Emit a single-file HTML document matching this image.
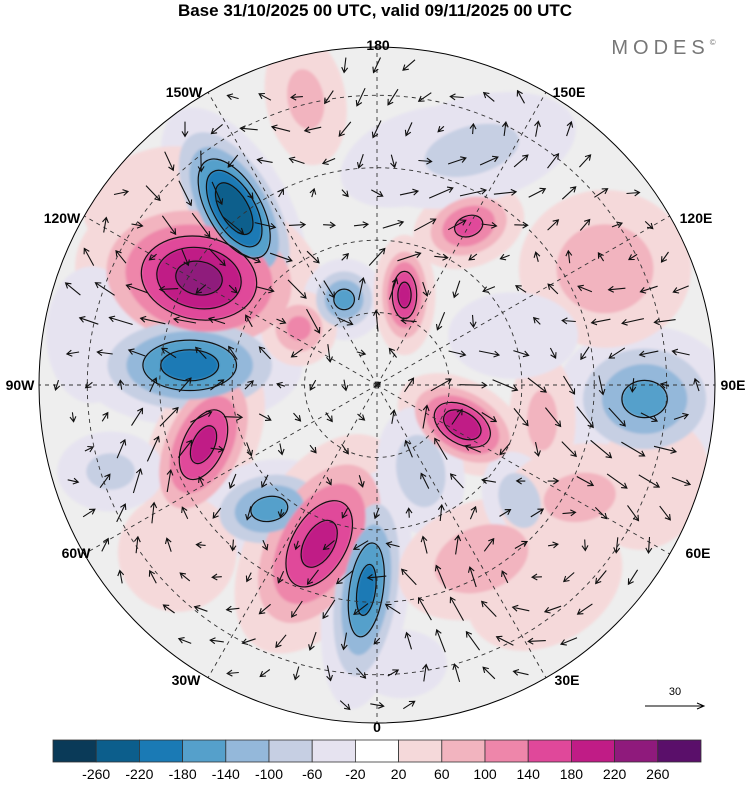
<!DOCTYPE html>
<html><head><meta charset="utf-8"><style>
body{margin:0;background:#fff;width:750px;height:783px;overflow:hidden;font-family:"Liberation Sans",sans-serif}
</style></head><body>
<svg id="chart" width="750" height="783" viewBox="0 0 750 783" xmlns="http://www.w3.org/2000/svg">
<text x="375" y="16" text-anchor="middle" font-size="17" font-weight="bold" font-family="Liberation Sans, sans-serif">Base 31/10/2025 00 UTC, valid 09/11/2025 00 UTC</text>
<text x="666" y="54" text-anchor="middle" font-size="20" fill="#777" letter-spacing="5" font-family="Liberation Sans, sans-serif">MODES<tspan font-size="8" dy="-9">©</tspan></text>
<defs><clipPath id="disc"><circle cx="377" cy="385" r="338"/></clipPath>
<filter id="blur"><feGaussianBlur stdDeviation="1.2"/></filter></defs>
<circle cx="377" cy="385" r="338" fill="#eeeeee"/>
<g id="blobs" clip-path="url(#disc)" filter="url(#blur)"></g>
<g id="contours" clip-path="url(#disc)"></g>
<g id="grid" clip-path="url(#disc)"></g>
<g id="arrows" clip-path="url(#disc)"></g>
<circle cx="377" cy="385" r="338" fill="none" stroke="#000" stroke-width="1"/>
<g id="lonlabels" font-size="14" font-weight="bold" text-anchor="middle">
<text x="378" y="50">180</text>
<text x="569" y="97">150E</text>
<text x="696" y="223">120E</text>
<text x="733" y="390">90E</text>
<text x="698" y="558">60E</text>
<text x="567" y="685">30E</text>
<text x="377" y="732">0</text>
<text x="186" y="685">30W</text>
<text x="76" y="558">60W</text>
<text x="20" y="390">90W</text>
<text x="62" y="223">120W</text>
<text x="184" y="97">150W</text>
</g>
<text x="675" y="695" text-anchor="middle" font-size="11">30</text>
<line x1="645" y1="706" x2="703" y2="706" stroke="#000" stroke-width="1"/>
<path d="M697 703 L704 706 L697 709" fill="none" stroke="#000"/>
<g id="colorbar"></g>
</svg>
<script>
const levels=[-260,-220,-180,-140,-100,-60,-20,20,60,100,140,180,220,260];
const colors=["#0a3a58","#0c5e8c","#1a7ab5","#55a0cb","#94b8da","#c6cfe3","#e6e3f0","#ffffff","#f5d9da","#f2b4bf","#ee86aa","#e0489a","#c01c86","#8f1a7c","#5a0f6a"];
const blobLon=[-141,-121,-96,-71,-41,-20,-3,-159,163,150,65,87,117,27,78,31,51,-166,158,61,-126,-72,40,70,170,-100,-50,-130,110,5];
const blobLat=[43,47,51,52,56,55,47.5,71,70.5,52,70.5,34.5,37,70,55,48,52,29,37.6,42,70,32,36,30,42,30,36,30,60,32];
const blobVal=[-250,230,-200,190,-150,190,-190,-150,190,150,210,-150,90,-90,70,90,-90,70,-70,70,110,-70,50,45,-45,-45,50,55,-40,-45];
const blobRx=[30,70,65,30,45,40,25,25,18,35,40,55,60,30,25,60,25,30,80,60,25,40,70,50,70,40,50,60,60,40];
const blobRy=[62,50,35,55,30,70,70,25,35,25,25,45,55,45,50,40,35,50,40,40,25,30,50,60,40,60,50,40,40,30];
const blobRot=[-30,10,0,25,-10,30,8,0,0,-20,30,0,0,-10,0,-20,-20,-10,-15,-10,0,0,-30,30,-20,0,20,-20,0,0];
const cx=377,cy=385,R=338,latMin=20;
function proj(lon,lat){const r=R*(90-lat)/(90-latMin);const a=lon*Math.PI/180;return [cx+r*Math.sin(a),cy+r*Math.cos(a)];}
function colorFor(v){let i=0;while(i<levels.length&&v>levels[i])i++;return colors[i];}
const NS="http://www.w3.org/2000/svg";
const bg=document.getElementById('blobs'),cg=document.getElementById('contours');
const centers=blobVal.map((v,k)=>proj(blobLon[k],blobLat[k]));
// draw layer by layer so stronger cores stay on top
for(let thr=20;thr<300;thr+=40){
  blobVal.forEach((v,k)=>{
    const av=Math.abs(v);if(thr>=av)return;
    const sgn=v<0?-1:1;const [x,y]=centers[k];
    const sx=blobRx[k]*0.8,sy=blobRy[k]*0.8;
    const f=Math.sqrt(2*Math.log((av+10)/thr));
    const tr=`translate(${x.toFixed(1)},${y.toFixed(1)}) rotate(${blobRot[k]})`;
    const e=document.createElementNS(NS,'ellipse');
    
    
    e.setAttribute('transform',tr);
    e.setAttribute('rx',(sx*f).toFixed(1));e.setAttribute('ry',(sy*f).toFixed(1));
    e.setAttribute('fill',colorFor(sgn*(thr+1)));bg.appendChild(e);
    if(thr>=140){const o=document.createElementNS(NS,'ellipse');
      
      
      o.setAttribute('transform',tr);
      o.setAttribute('rx',(sx*f).toFixed(1));o.setAttribute('ry',(sy*f).toFixed(1));
      o.setAttribute('fill','none');o.setAttribute('stroke','#111');o.setAttribute('stroke-width','1.2');cg.appendChild(o);}
  });
}
const gr=document.getElementById('grid');
[30,45,60,75].forEach(lat=>{const c=document.createElementNS(NS,'circle');
  
  
  c.setAttribute('cx',cx);c.setAttribute('cy',cy);c.setAttribute('r',R*(90-lat)/(90-latMin));
  c.setAttribute('fill','none');c.setAttribute('stroke','#333');c.setAttribute('stroke-width','0.9');c.setAttribute('stroke-dasharray','4,4');gr.appendChild(c);});
for(let i=0;i<12;i++){const [x,y]=proj(i*30,latMin);
  const l=document.createElementNS(NS,'line');
  
  
  l.setAttribute('x1',cx);l.setAttribute('y1',cy);l.setAttribute('x2',x);l.setAttribute('y2',y);
  l.setAttribute('stroke','#333');l.setAttribute('stroke-width','0.9');l.setAttribute('stroke-dasharray','4,4');gr.appendChild(l);}
const ag=document.getElementById('arrows');
let ap='';
for(let y=cy-R+18;y<cy+R;y+=32){for(let x=cx-R+18;x<cx+R;x+=32){
  const ox=x+((Math.floor(y/32)%2)?16:0);
  if(Math.hypot(ox-cx,y-cy)>R-12)continue;
  let u=0,w=0;
  blobVal.forEach((v,k)=>{const dx=ox-centers[k][0],dy=y-centers[k][1];
    const s=(blobRx[k]+blobRy[k])*0.7;const g=Math.exp(-(dx*dx+dy*dy)/(2*s*s))*v/s;
    u+= -dy*g*0.12; w+= dx*g*0.12;});
  const sp=Math.hypot(u,w);if(sp<1.5)continue;
  const L=Math.min(30,6+sp*1.2);const ux=u/sp,uy=w/sp;
  const x1=ox-ux*L/2,y1=y-uy*L/2,x2=ox+ux*L/2,y2=y+uy*L/2;
  ap+=`M${x1.toFixed(1)} ${y1.toFixed(1)}L${x2.toFixed(1)} ${y2.toFixed(1)}`;
  const hx=x2-ux*5,hy=y2-uy*5;
  ap+=`M${(hx-uy*3).toFixed(1)} ${(hy+ux*3).toFixed(1)}L${x2.toFixed(1)} ${y2.toFixed(1)}L${(hx+uy*3).toFixed(1)} ${(hy-ux*3).toFixed(1)}`;
}}
const arrowPath=document.createElementNS(NS,'path');


arrowPath.setAttribute('d',ap);arrowPath.setAttribute('stroke','#111');arrowPath.setAttribute('stroke-width','1.1');arrowPath.setAttribute('fill','none');
ag.appendChild(arrowPath);
const cb=document.getElementById('colorbar');
const x0=53,x1=701,bw=(x1-x0)/colors.length;
colors.forEach((c,i)=>{const r=document.createElementNS(NS,'rect');
  
  
  r.setAttribute('x',x0+i*bw);r.setAttribute('y',740);r.setAttribute('width',bw);r.setAttribute('height',22);
  r.setAttribute('fill',c);r.setAttribute('stroke','#333');r.setAttribute('stroke-width','0.8');cb.appendChild(r);});
levels.forEach((v,i)=>{const t=document.createElementNS(NS,'text');
  
  
  t.setAttribute('x',x0+(i+1)*bw);t.setAttribute('y',779);t.setAttribute('text-anchor','middle');t.setAttribute('font-size','14');
  t.textContent=v;cb.appendChild(t);});
</script>
</body></html>
